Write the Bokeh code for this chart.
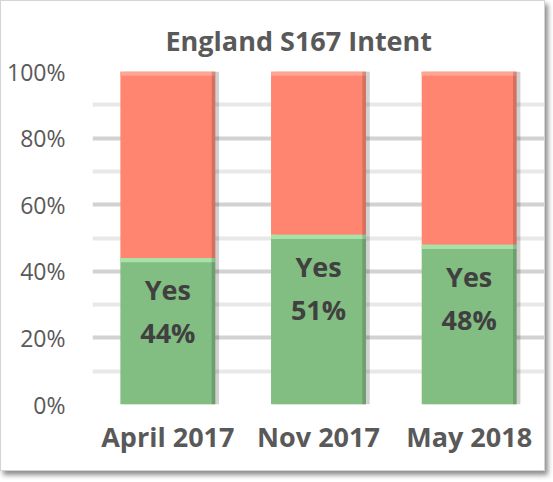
from bokeh.plotting import figure
from bokeh.models import ColumnDataSource, FixedTicker, NumeralTickFormatter, Range1d, Title
from bokeh.transform import dodge
from bokeh.core.properties import value
from bokeh.embed import file_html
from bokeh.resources import INLINE

# ---- data ----
categories = ["April 2017", "Nov 2017", "May 2018"]
yes_values = [0.44, 0.51, 0.48]
no_values = [0.56, 0.49, 0.52]
yes_labels = ["44%", "51%", "48%"]
series_word = "Yes"
y_ticks = [0.0, 0.2, 0.4, 0.6, 0.8, 1.0]
y_minor_ticks = [0.1, 0.3, 0.5, 0.7, 0.9]
title_text = "England S167 Intent"

# ---- styles ----
GREEN = "#82bd82"
GREEN_HL = "#a8e2a8"
RED = "#ff8570"
RED_HL = "#ffa594"
TXT = "#595959"
LBL = "#404040"
FONT = "Open Sans"
BAR_W = 0.63
BEVEL = 0.013

totals = [y + n for y, n in zip(yes_values, no_values)]
src = ColumnDataSource(dict(
    cat=categories,
    yes=yes_values,
    no=no_values,
    total=totals,
    yes_hl=[v - BEVEL for v in yes_values],
    total_hl=[t - BEVEL for t in totals],
    word=[series_word] * len(categories),
    pct=yes_labels,
))

p = figure(width=545, height=471, x_range=categories, y_range=Range1d(0, 1),
           output_backend="svg", toolbar_location=None,
           min_border_left=91, min_border_right=2, min_border_top=70, min_border_bottom=68)
p.outline_line_color = None
p.background_fill_color = "white"
p.border_fill_color = "white"
p.styles = {"border": "1px solid #d4d4d4", "box-shadow": "3px 4px 5px rgba(0,0,0,0.45)"}

# title
p.title = Title(text=title_text, align="left", text_font=FONT, text_font_size="27px",
                text_font_style="bold", text_color=TXT, standoff=26, offset=73)

# grid
p.xgrid.grid_line_color = None
p.ygrid.ticker = FixedTicker(ticks=y_ticks, minor_ticks=y_minor_ticks)
p.ygrid.grid_line_color = "#d2d2d2"
p.ygrid.grid_line_width = 4
p.ygrid.minor_grid_line_color = "#e8e8e8"
p.ygrid.minor_grid_line_width = 4

# axes
p.yaxis.ticker = FixedTicker(ticks=y_ticks)
p.yaxis.formatter = NumeralTickFormatter(format="0%")
for ax in (p.xaxis[0], p.yaxis[0]):
    ax.axis_line_color = None
    ax.major_tick_line_color = None
    ax.minor_tick_line_color = None
    ax.major_label_text_font = FONT
    ax.major_label_text_color = TXT
p.yaxis.major_label_text_font_size = "23px"
p.yaxis.major_label_standoff = 21
p.xaxis.major_label_text_font_size = "27px"
p.xaxis.major_label_text_font_style = "bold"
p.xaxis.major_label_standoff = 7

# shadow behind bars
p.vbar(x=dodge("cat", 0.025, range=p.x_range), top="total", bottom=0, width=BAR_W,
       source=src, fill_color="#000000", fill_alpha=0.18, line_color=None)

# stacked bars
p.vbar_stack(["yes", "no"], x="cat", width=BAR_W, color=[GREEN, RED], source=src,
             line_color=None)

# top bevel highlights
p.vbar(x="cat", top="yes", bottom="yes_hl", width=BAR_W, source=src,
       fill_color=GREEN_HL, line_color=None)
p.vbar(x="cat", top="total", bottom="total_hl", width=BAR_W, source=src,
       fill_color=RED_HL, line_color=None)

# right dark edge
p.vbar(x=dodge("cat", BAR_W / 2 - 0.012, range=p.x_range), top="total", bottom=0,
       width=0.024, source=src, fill_color="#000000", fill_alpha=0.16, line_color=None)

# labels
p.text(x="cat", y="yes", text="word", source=src, text_align="center",
       text_baseline="middle", y_offset=32, text_font=value(FONT),
       text_font_size="27px", text_font_style="bold", text_color=LBL)
p.text(x="cat", y="yes", text="pct", source=src, text_align="center",
       text_baseline="middle", y_offset=75, text_font=value(FONT),
       text_font_size="27px", text_font_style="bold", text_color=LBL)

open("out.html", "w").write(file_html(p, INLINE))
